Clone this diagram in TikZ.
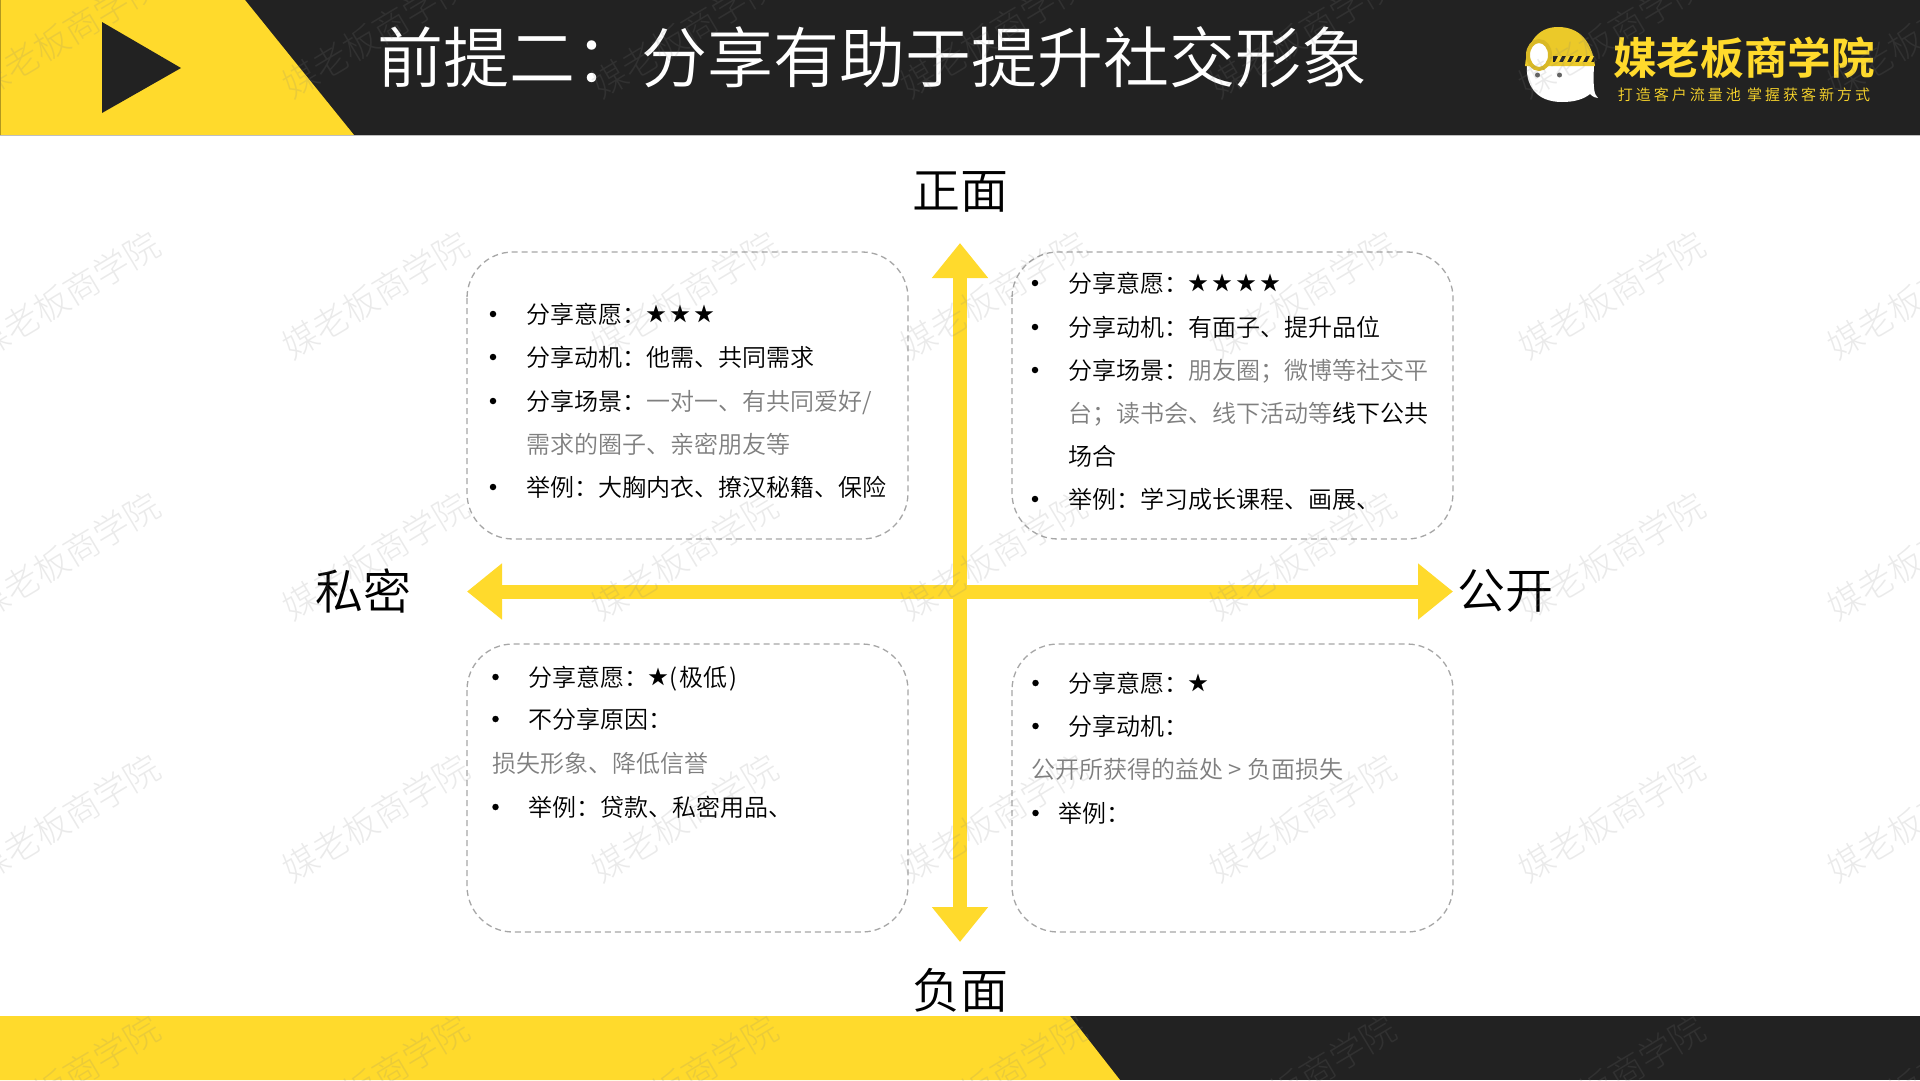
\documentclass[tikz,border=0pt]{standalone}
\usepackage{fontspec}
\setmainfont{Noto Sans CJK SC DemiLight}
\newfontfamily\lightcjk{Noto Sans CJK SC Light}
\newfontfamily\boldcjk{Noto Sans CJK SC Bold}
\usetikzlibrary{arrows.meta}
\definecolor{brandy}{HTML}{FFDA2C}
\definecolor{brandk}{HTML}{222222}
\definecolor{mutedt}{HTML}{7F7F7F}
\definecolor{dashg}{HTML}{A6A6A6}
\newcommand{\fs}[1]{\fontsize{#1}{#1}\selectfont}
\newcommand{\mut}[1]{\textcolor{mutedt}{#1}}
\newcommand{\rate}[1]{\raisebox{1.4pt}{\fs{20}\addfontfeature{LetterSpace=20}#1}}
\tikzset{
  quadbox/.style={draw=dashg,line width=1.3pt,dash pattern=on 6pt off 4pt,rounded corners=46pt},
  bodyline/.style={anchor=west,inner sep=0pt,text height=21pt,text depth=3pt,font=\fs{24},text=black},
  bulletdot/.style={circle,fill=black,inner sep=0pt,minimum size=6.5pt},
  axislabel/.style={inner sep=0pt,font=\fs{48},text=black},
  axisarrow/.style={draw=brandy,line width=14pt,{Triangle[length=35pt,width=54pt]}-{Triangle[length=35pt,width=54pt]}},
  watermark/.style={inner sep=0pt,rotate=31,font=\lightcjk\fs{35},text=gray,opacity=.16}
}
\begin{document}
\begin{tikzpicture}[x=1pt,y=-1pt]
\useasboundingbox (0,0) rectangle (1920,1080);
\fill[white] (0,0) rectangle (1920,1080);
% header
\fill[brandk] (0,0) rectangle (1920,135);
\fill[brandy] (0,0) -- (245,0) -- (354,135) -- (0,135) -- cycle;
\fill[brandk] (102,22) -- (181,68) -- (102,113) -- cycle;
\draw[gray!50,line width=1pt] (0,135.5) -- (1920,135.5);
\draw[brandy!70!black,line width=1pt] (.5,0) -- (.5,135);
\node[inner sep=0pt,text=white,font=\fs{66}] (title) at (872,57) {前提二：分享有助于提升社交形象};
% logo
\fill[white] (1527,63) .. controls (1525,84) and (1535,102) .. (1562,102) .. controls (1575,102) and (1584,99) .. (1590,94) .. controls (1593,97) and (1596,98) .. (1598,98) .. controls (1594,94) and (1593,90) .. (1594,63) -- cycle;
\fill[brandy!92!black] (1525,66) .. controls (1527,42) and (1538,27) .. (1558,27) .. controls (1580,27) and (1592,42) .. (1595,66) -- cycle;
\fill[brandk] (1553,56) rectangle (1594,62);
\foreach \sx in {1555,1563,1571,1579,1587}
  \fill[brandy] (\sx,62) -- (\sx+3,56) -- (\sx+7,56) -- (\sx+4,62) -- cycle;
\fill[white,draw=brandy!85!black,line width=4pt] (1539,55) ellipse (11 and 14);
\fill[brandk!70] (1537.5,75) circle (2.5);
\fill[brandk!70] (1559.5,75) circle (2.5);
\node[inner sep=0pt,text=brandy,font=\boldcjk\fs{43.6}] (logoname) at (1744,58) {媒老板商学院};
\node[inner sep=0pt,text=brandy,font=\fs{15}\addfontfeature{LetterSpace=20}] (logotag) at (1744,95) {打造客户流量池 掌握获客新方式};
% footer
\fill[brandk] (0,1016) rectangle (1920,1080);
\fill[brandy] (0,1016) -- (1070,1016) -- (1120,1080) -- (0,1080) -- cycle;
% boxes
\draw[quadbox] (467,252) rectangle (908,539);
\draw[quadbox] (1012,252) rectangle (1453,539);
\draw[quadbox] (467,644) rectangle (908,932);
\draw[quadbox] (1012,644) rectangle (1453,932);
% axes
\coordinate (vtop) at (960,243);
\coordinate (vbot) at (960,942);
\coordinate (hleft) at (467,591.5);
\coordinate (hright) at (1453,591.5);
\draw[axisarrow] (vtop) -- (vbot);
\draw[axisarrow] (hleft) -- (hright);
\node[axislabel] (lbltop) at (960,192) {正面};
\node[axislabel] (lblbot) at (960,990) {负面};
\node[axislabel] (lblleft) at (363,591) {私密};
\node[axislabel] (lblright) at (1505,591) {公开};
% top-left
\node[bulletdot] (a1b) at (493,314) {};
\node[bodyline] (a1) at (526,314) {分享意愿：\rate{★★★}};
\node[bulletdot] (a2b) at (493,357) {};
\node[bodyline] (a2) at (526,357) {分享动机：他需、共同需求};
\node[bulletdot] (a3b) at (493,401) {};
\node[bodyline] (a3) at (526,401) {分享场景：\mut{一对一、有共同爱好/}};
\node[bodyline] (a4) at (526,444) {\mut{需求的圈子、亲密朋友等}};
\node[bulletdot] (a5b) at (493,487) {};
\node[bodyline] (a5) at (526,487) {举例：大胸内衣、撩汉秘籍、保险};
% top-right
\node[bulletdot] (b1b) at (1035,283) {};
\node[bodyline] (b1) at (1068,283) {分享意愿：\rate{★★★★}};
\node[bulletdot] (b2b) at (1035,327) {};
\node[bodyline] (b2) at (1068,327) {分享动机：有面子、提升品位};
\node[bulletdot] (b3b) at (1035,370) {};
\node[bodyline] (b3) at (1068,370) {分享场景：\mut{朋友圈；微博等社交平}};
\node[bodyline] (b4) at (1068,413) {\mut{台；读书会、线下活动等}线下公共};
\node[bodyline] (b5) at (1068,456) {场合};
\node[bulletdot] (b6b) at (1035,499) {};
\node[bodyline] (b6) at (1068,499) {举例：学习成长课程、画展、};
% bottom-left
\node[bulletdot] (c1b) at (495.5,677) {};
\node[bodyline] (c1) at (528,677) {分享意愿：\rate{★}\hspace{1pt}(\hspace{2pt}极低\hspace{2pt})};
\node[bulletdot] (c2b) at (495.5,719) {};
\node[bodyline] (c2) at (528,719) {不分享原因：};
\node[bodyline] (c3) at (492,763) {\mut{损失形象、降低信誉}};
\node[bulletdot] (c4b) at (495.5,807) {};
\node[bodyline] (c4) at (528,807) {举例：贷款、私密用品、};
% bottom-right
\node[bulletdot] (d1b) at (1035.5,683) {};
\node[bodyline] (d1) at (1068,683) {分享意愿：\rate{★}};
\node[bulletdot] (d2b) at (1035.5,726) {};
\node[bodyline] (d2) at (1068,726) {分享动机：};
\node[bodyline] (d3) at (1031,769) {\mut{公开所获得的益处 > 负面损失}};
\node[bulletdot] (d4b) at (1035.5,813) {};
\node[bodyline] (d4) at (1058,813) {举例：};
% watermark
\foreach \i/\wx in {0/-242,1/67,2/376,3/685,4/994,5/1303,6/1612,7/1921}
  \foreach \j/\wy in {0/34,1/295,2/556,3/818,4/1079}
    \node[watermark] (wm\i\j) at (\wx,\wy) {媒老板商学院};
\end{tikzpicture}
\end{document}
